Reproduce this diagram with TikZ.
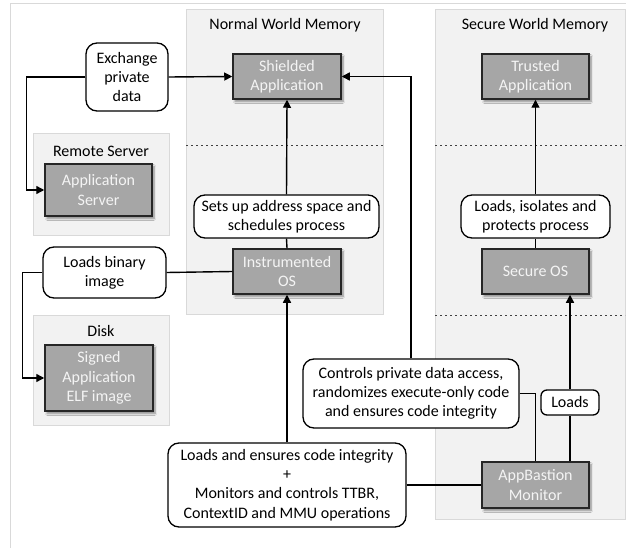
\documentclass[tikz,border=0pt]{standalone}
\usepackage{fontspec}
\setmainfont{Carlito}
\usetikzlibrary{arrows.meta,shadows.blur,calc}
\definecolor{panelfill}{HTML}{F2F2F2}
\definecolor{paneldraw}{HTML}{D9D9D9}
\definecolor{boxfill}{HTML}{A6A6A6}
\definecolor{boxdraw}{HTML}{262626}
\definecolor{boxtext}{HTML}{F4F4F4}
\begin{document}
\begin{tikzpicture}[x=1pt,y=-1pt,
  every node/.style={font=\fontsize{16}{19.2}\selectfont},
  gbox/.style={draw=boxdraw, line width=1.5pt, fill=boxfill, text=boxtext, align=center, inner sep=0pt,
     blur shadow={shadow xshift=2pt, shadow yshift=-2.5pt, shadow blur steps=6, shadow opacity=45}},
  rbox/.style={draw=black, line width=1.3pt, fill=white, rounded corners=11pt, align=center, inner sep=0pt},
  conn/.style={draw=black, line width=1.4pt},
  arr/.style={conn, -{Triangle[length=8pt,width=8pt]}},
  panel/.style={draw=paneldraw, line width=0.8pt, fill=panelfill},
  sep/.style={draw=black!75, line width=0.9pt, dash pattern=on 2pt off 3pt},
  ptitle/.style={text=black}
]
\useasboundingbox (0,0) rectangle (626,548);
\draw[paneldraw, line width=1pt] (10.5,548) -- (10.5,4) -- (626,4);

% panels
\path[panel] (186,9) rectangle (383,314);
\path[panel] (435,9) rectangle (625,519);
\path[panel] (33,133) rectangle (169,235);
\path[panel] (33,315) rectangle (169,425);
\draw[sep] (186,145) -- (383,145);
\draw[sep] (435,145) -- (625,145);
\draw[sep] (435,315) -- (625,315);

\node[ptitle] (tnormal) at (285,25) {Normal World Memory};
\node[ptitle] (tsecure) at (535,25) {Secure World Memory};
\node[ptitle] (tremote) at (101,151) {Remote Server};
\node[ptitle] (tdisk) at (101,331) {Disk};

% gray boxes
\node[gbox, minimum width=108pt, minimum height=45pt] (shield) at (287,76.5) {Shielded\\Application};
\node[gbox, minimum width=107pt, minimum height=45pt] (trusted) at (535.5,76.5) {Trusted\\Application};
\node[gbox, minimum width=108pt, minimum height=45pt] (instr) at (287,271.5) {Instrumented\\OS};
\node[gbox, minimum width=107pt, minimum height=45pt] (secos) at (535.5,271.5) {Secure OS};
\node[gbox, minimum width=107pt, minimum height=52pt] (appserv) at (98.5,190) {Application\\Server};
\node[gbox, minimum width=108pt, minimum height=66pt] (signed) at (99,378) {Signed\\Application\\ELF image};
\node[gbox, minimum width=107pt, minimum height=46pt] (appb) at (535.5,485) {AppBastion\\Monitor};

% rounded label boxes
\node[rbox, minimum width=82pt, minimum height=68pt] (exch) at (127,77) {Exchange\\private\\data};
\node[rbox, minimum width=185pt, minimum height=43pt] (setsup) at (286.5,216.5) {Sets up address space and\\schedules process};
\node[rbox, minimum width=149pt, minimum height=43pt] (loadsiso) at (535.5,216.5) {Loads, isolates and\\protects process};
\node[rbox, minimum width=123pt, minimum height=51pt] (loadsbin) at (104.5,272.5) {Loads binary\\image};
\node[rbox, minimum width=238pt, minimum height=84pt] (loadsens) at (287,485) {Loads and ensures code integrity\\+\\Monitors and controls TTBR,\\ContextID and MMU operations};
\node[rbox, minimum width=216pt, minimum height=69pt] (controls) at (411,393.5) {Controls private data access,\\randomizes execute-only code\\and ensures code integrity};
\node[rbox, rounded corners=6pt, minimum width=58pt, minimum height=25pt] (loads) at (570,402.5) {Loads};

% connectors
\draw[arr] (exch.east) -- (shield.west);
\draw[arr] (exch.west) -- ++(-59,0) |- (appserv.west);
\draw[conn] (instr.west) -- (loadsbin.east);
\draw[arr] (loadsbin.west) -- ++(-20,0) |- (signed.west);
\draw[conn] (instr.north) -- (setsup.south);
\draw[arr] (setsup.north) -- (shield.south);
\draw[arr] (loadsens.north) -- (instr.south);
\draw[conn] (loadsens.east) -- (appb.west);
\draw[arr] (controls.north) |- (shield.east);
\draw[conn] (controls.east) -| (appb.north);
\draw[conn] (appb.north -| loads.south) -- (loads.south);
\draw[arr] (loads.north) -- (loads.north |- secos.south);
\draw[conn] (secos.north) -- (loadsiso.south);
\draw[arr] (loadsiso.north) -- (trusted.south);
\end{tikzpicture}
\end{document}
